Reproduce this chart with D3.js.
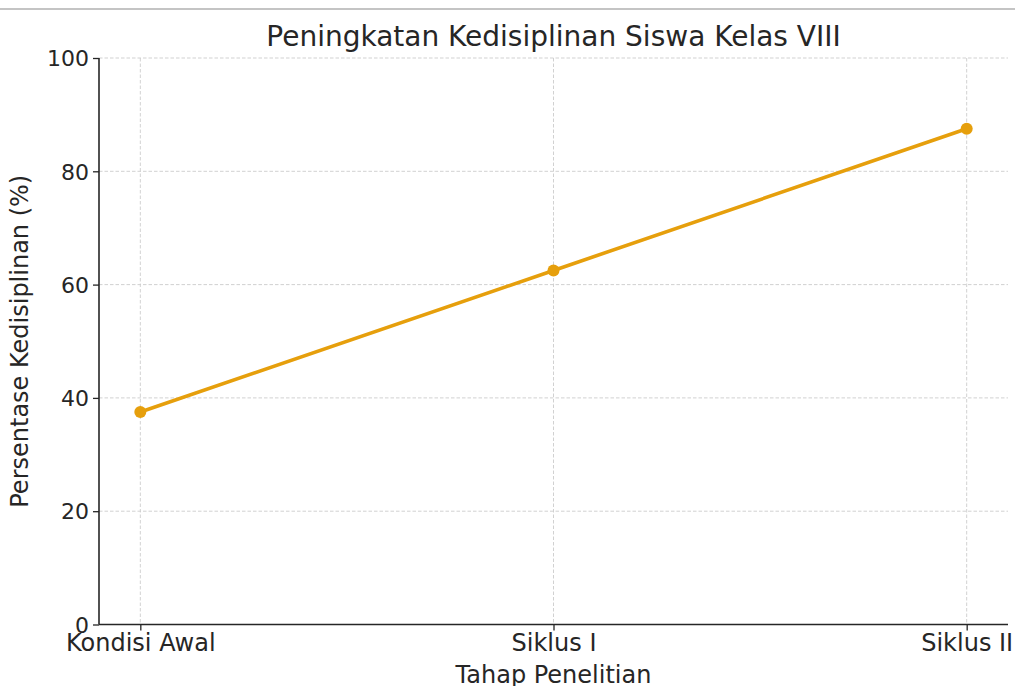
<!DOCTYPE html>
<html><head><meta charset="utf-8">
<script src="https://cdn.jsdelivr.net/npm/d3@7/dist/d3.min.js"></script>
<style>
body{margin:0;background:#fff;overflow:hidden;}
svg{display:block;font-family:"DejaVu Sans",sans-serif;}
</style></head>
<body><svg id="c" width="1015" height="686"></svg>
<script>
const categories = ["Kondisi Awal", "Siklus I", "Siklus II"];
const values = [37.5, 62.5, 87.5];
const yTicks = [0, 20, 40, 60, 80, 100];
const title = "Peningkatan Kedisiplinan Siswa Kelas VIII";
const xLabel = "Tahap Penelitian";
const yLabel = "Persentase Kedisiplinan (%)";

const svg = d3.select("#c");
const W = 1015, H = 686;
const m = {left: 99, right: 7, top: 58, bottom: 61.5};
const x = d3.scaleLinear().domain([-0.1, categories.length - 1 + 0.1]).range([m.left, W - m.right]);
const y = d3.scaleLinear().domain([0, 100]).range([H - m.bottom, m.top]);
const ink = "#262626";

// top separator
svg.append("line").attr("x1", 0).attr("x2", W).attr("y1", 9).attr("y2", 9)
  .attr("stroke", "#b0b0b0").attr("stroke-width", 1.5);

// grid
const g = svg.append("g");
g.selectAll(".hg").data(yTicks).join("line")
  .attr("x1", m.left).attr("x2", W - m.right)
  .attr("y1", d => y(d)).attr("y2", d => y(d))
  .attr("stroke", "#cccccc").attr("stroke-width", 0.9).attr("stroke-dasharray", "3.5,2");
g.selectAll(".vg").data(categories).join("line")
  .attr("x1", (d, i) => x(i)).attr("x2", (d, i) => x(i))
  .attr("y1", m.top).attr("y2", H - m.bottom)
  .attr("stroke", "#cccccc").attr("stroke-width", 0.9).attr("stroke-dasharray", "3.5,2");

// axes
const yAxis = d3.axisLeft(y).tickValues(yTicks).tickSize(6).tickPadding(4);
const ya = svg.append("g").attr("transform", `translate(${m.left},0)`).call(yAxis);
const xAxis = d3.axisBottom(x).tickValues(categories.map((d, i) => i)).tickFormat(i => categories[i]).tickSize(6).tickPadding(2);
const xa = svg.append("g").attr("transform", `translate(0,${H - m.bottom})`).call(xAxis);
[ya, xa].forEach(a => {
  a.select(".domain").attr("stroke", ink).attr("stroke-width", 1.6);
  a.selectAll(".tick line").attr("stroke", ink).attr("stroke-width", 1.3);
  a.selectAll(".tick text").attr("fill", ink).attr("font-family", "DejaVu Sans");
});
ya.selectAll(".tick text").attr("font-size", 22).attr("dy", "0.35em");
xa.selectAll(".tick text").attr("font-size", 24).attr("dy", "0.75em");
ya.select(".domain").attr("d", `M0,${y(100)}V${y(0)}`);
xa.select(".domain").attr("d", `M${m.left},0H${W - m.right}`);

// line
const line = d3.line().x((d, i) => x(i)).y(d => y(d));
svg.append("path").datum(values).attr("d", line)
  .attr("fill", "none").attr("stroke", "#e69f0c").attr("stroke-width", 3.6)
  .attr("stroke-linejoin", "round").attr("stroke-linecap", "round");
svg.selectAll(".pt").data(values).join("circle")
  .attr("cx", (d, i) => x(i)).attr("cy", d => y(d)).attr("r", 6).attr("fill", "#e69f0c");

// labels
svg.append("text").attr("x", (m.left + W - m.right) / 2).attr("y", 46)
  .attr("text-anchor", "middle").attr("font-size", 28).attr("fill", ink).text(title);
svg.append("text").attr("x", x(1)).attr("y", 683)
  .attr("text-anchor", "middle").attr("font-size", 24).attr("fill", ink).text(xLabel);
svg.append("text").attr("transform", `translate(28,${(y(0) + y(100)) / 2}) rotate(-90)`)
  .attr("text-anchor", "middle").attr("font-size", 24).attr("fill", ink).text(yLabel);
</script></body></html>
